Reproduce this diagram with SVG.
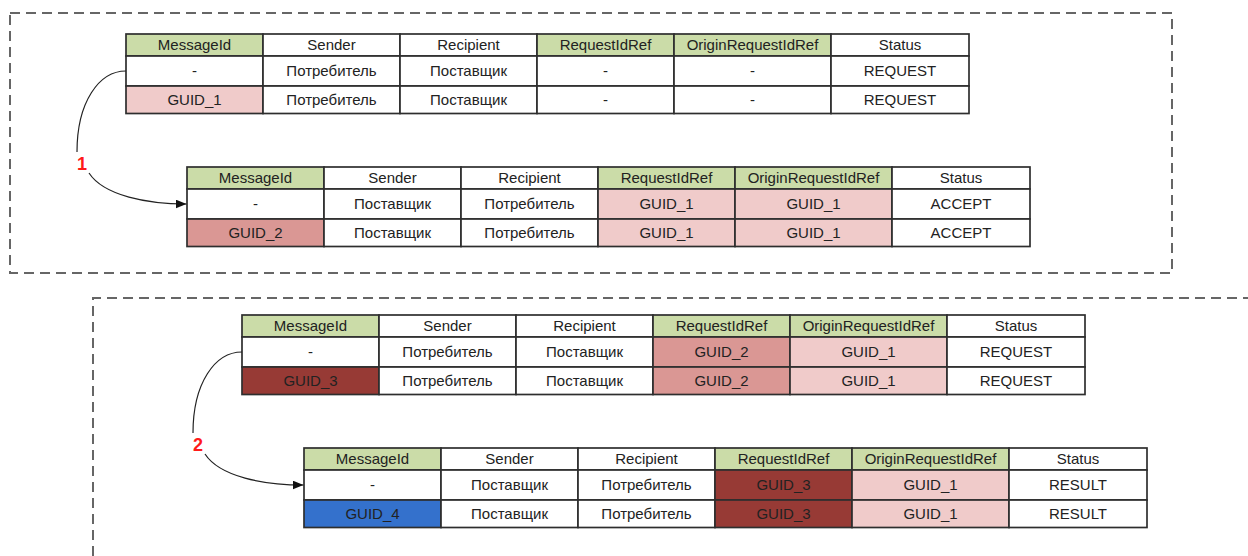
<svg xmlns="http://www.w3.org/2000/svg" width="1248" height="556" viewBox="0 0 1248 556">
<style>
  rect.c{stroke:#2e2e2e;stroke-width:1.7}
  .g{fill:#cbdca8}
  .w{fill:#ffffff}
  .p1{fill:#f0cbca}
  .p2{fill:#da9794}
  .p3{fill:#973a35}
  .b{fill:#3471cc}
  text.t{font-family:"Liberation Sans",Arial,sans-serif;font-size:15px;fill:#222;text-anchor:middle}
  .dash{fill:none;stroke:#666;stroke-width:2;stroke-dasharray:10 6}
  .conn{fill:none;stroke:#222;stroke-width:1.2}
  .lbl{font-family:"Liberation Sans",Arial,sans-serif;font-size:18px;font-weight:bold;fill:#ff1a1a;text-anchor:middle}
</style>
<defs>
  <marker id="arr" markerWidth="11" markerHeight="9" refX="11" refY="4.5" orient="auto" markerUnits="userSpaceOnUse">
    <path d="M0,0 L11,4.5 L0,9 Z" fill="#111"/>
  </marker>
</defs>
<rect width="1248" height="556" fill="#ffffff"/>
<g id="frames">
  <rect class="dash" x="10" y="13" width="1162" height="260"/>
  <path class="dash" d="M93,556 V298 H1248"/>
</g>

<g id="table1" transform="translate(126,34)">
  <rect class="c g" x="0" y="0" width="137" height="22"/><text class="t" x="68.5" y="16.3">MessageId</text>
  <rect class="c w" x="137" y="0" width="137" height="22"/><text class="t" x="205.5" y="16.3">Sender</text>
  <rect class="c w" x="274" y="0" width="137" height="22"/><text class="t" x="342.5" y="16.3">Recipient</text>
  <rect class="c g" x="411" y="0" width="137" height="22"/><text class="t" x="479.5" y="16.3">RequestIdRef</text>
  <rect class="c g" x="548" y="0" width="157" height="22"/><text class="t" x="626.5" y="16.3">OriginRequestIdRef</text>
  <rect class="c w" x="705" y="0" width="138" height="22"/><text class="t" x="774" y="16.3">Status</text>
  <rect class="c w" x="0" y="22" width="137" height="30"/><text class="t" x="68.5" y="42.3">-</text>
  <rect class="c w" x="137" y="22" width="137" height="30"/><text class="t" x="205.5" y="42.3">Потребитель</text>
  <rect class="c w" x="274" y="22" width="137" height="30"/><text class="t" x="342.5" y="42.3">Поставщик</text>
  <rect class="c w" x="411" y="22" width="137" height="30"/><text class="t" x="479.5" y="42.3">-</text>
  <rect class="c w" x="548" y="22" width="157" height="30"/><text class="t" x="626.5" y="42.3">-</text>
  <rect class="c w" x="705" y="22" width="138" height="30"/><text class="t" x="774" y="42.3">REQUEST</text>
  <rect class="c p1" x="0" y="52" width="137" height="27.5"/><text class="t" x="68.5" y="71">GUID_1</text>
  <rect class="c w" x="137" y="52" width="137" height="27.5"/><text class="t" x="205.5" y="71">Потребитель</text>
  <rect class="c w" x="274" y="52" width="137" height="27.5"/><text class="t" x="342.5" y="71">Поставщик</text>
  <rect class="c w" x="411" y="52" width="137" height="27.5"/><text class="t" x="479.5" y="71">-</text>
  <rect class="c w" x="548" y="52" width="157" height="27.5"/><text class="t" x="626.5" y="71">-</text>
  <rect class="c w" x="705" y="52" width="138" height="27.5"/><text class="t" x="774" y="71">REQUEST</text>
</g>

<g id="table2" transform="translate(187,167)">
  <rect class="c g" x="0" y="0" width="137" height="22"/><text class="t" x="68.5" y="16.3">MessageId</text>
  <rect class="c w" x="137" y="0" width="137" height="22"/><text class="t" x="205.5" y="16.3">Sender</text>
  <rect class="c w" x="274" y="0" width="137" height="22"/><text class="t" x="342.5" y="16.3">Recipient</text>
  <rect class="c g" x="411" y="0" width="137" height="22"/><text class="t" x="479.5" y="16.3">RequestIdRef</text>
  <rect class="c g" x="548" y="0" width="157" height="22"/><text class="t" x="626.5" y="16.3">OriginRequestIdRef</text>
  <rect class="c w" x="705" y="0" width="138" height="22"/><text class="t" x="774" y="16.3">Status</text>
  <rect class="c w" x="0" y="22" width="137" height="30"/><text class="t" x="68.5" y="42.3">-</text>
  <rect class="c w" x="137" y="22" width="137" height="30"/><text class="t" x="205.5" y="42.3">Поставщик</text>
  <rect class="c w" x="274" y="22" width="137" height="30"/><text class="t" x="342.5" y="42.3">Потребитель</text>
  <rect class="c p1" x="411" y="22" width="137" height="30"/><text class="t" x="479.5" y="42.3">GUID_1</text>
  <rect class="c p1" x="548" y="22" width="157" height="30"/><text class="t" x="626.5" y="42.3">GUID_1</text>
  <rect class="c w" x="705" y="22" width="138" height="30"/><text class="t" x="774" y="42.3">ACCEPT</text>
  <rect class="c p2" x="0" y="52" width="137" height="27.5"/><text class="t" x="68.5" y="71">GUID_2</text>
  <rect class="c w" x="137" y="52" width="137" height="27.5"/><text class="t" x="205.5" y="71">Поставщик</text>
  <rect class="c w" x="274" y="52" width="137" height="27.5"/><text class="t" x="342.5" y="71">Потребитель</text>
  <rect class="c p1" x="411" y="52" width="137" height="27.5"/><text class="t" x="479.5" y="71">GUID_1</text>
  <rect class="c p1" x="548" y="52" width="157" height="27.5"/><text class="t" x="626.5" y="71">GUID_1</text>
  <rect class="c w" x="705" y="52" width="138" height="27.5"/><text class="t" x="774" y="71">ACCEPT</text>
</g>

<g id="table3" transform="translate(242,315)">
  <rect class="c g" x="0" y="0" width="137" height="22"/><text class="t" x="68.5" y="16.3">MessageId</text>
  <rect class="c w" x="137" y="0" width="137" height="22"/><text class="t" x="205.5" y="16.3">Sender</text>
  <rect class="c w" x="274" y="0" width="137" height="22"/><text class="t" x="342.5" y="16.3">Recipient</text>
  <rect class="c g" x="411" y="0" width="137" height="22"/><text class="t" x="479.5" y="16.3">RequestIdRef</text>
  <rect class="c g" x="548" y="0" width="157" height="22"/><text class="t" x="626.5" y="16.3">OriginRequestIdRef</text>
  <rect class="c w" x="705" y="0" width="138" height="22"/><text class="t" x="774" y="16.3">Status</text>
  <rect class="c w" x="0" y="22" width="137" height="30"/><text class="t" x="68.5" y="42.3">-</text>
  <rect class="c w" x="137" y="22" width="137" height="30"/><text class="t" x="205.5" y="42.3">Потребитель</text>
  <rect class="c w" x="274" y="22" width="137" height="30"/><text class="t" x="342.5" y="42.3">Поставщик</text>
  <rect class="c p2" x="411" y="22" width="137" height="30"/><text class="t" x="479.5" y="42.3">GUID_2</text>
  <rect class="c p1" x="548" y="22" width="157" height="30"/><text class="t" x="626.5" y="42.3">GUID_1</text>
  <rect class="c w" x="705" y="22" width="138" height="30"/><text class="t" x="774" y="42.3">REQUEST</text>
  <rect class="c p3" x="0" y="52" width="137" height="27.5"/><text class="t" x="68.5" y="71">GUID_3</text>
  <rect class="c w" x="137" y="52" width="137" height="27.5"/><text class="t" x="205.5" y="71">Потребитель</text>
  <rect class="c w" x="274" y="52" width="137" height="27.5"/><text class="t" x="342.5" y="71">Поставщик</text>
  <rect class="c p2" x="411" y="52" width="137" height="27.5"/><text class="t" x="479.5" y="71">GUID_2</text>
  <rect class="c p1" x="548" y="52" width="157" height="27.5"/><text class="t" x="626.5" y="71">GUID_1</text>
  <rect class="c w" x="705" y="52" width="138" height="27.5"/><text class="t" x="774" y="71">REQUEST</text>
</g>

<g id="table4" transform="translate(304,448)">
  <rect class="c g" x="0" y="0" width="137" height="22"/><text class="t" x="68.5" y="16.3">MessageId</text>
  <rect class="c w" x="137" y="0" width="137" height="22"/><text class="t" x="205.5" y="16.3">Sender</text>
  <rect class="c w" x="274" y="0" width="137" height="22"/><text class="t" x="342.5" y="16.3">Recipient</text>
  <rect class="c g" x="411" y="0" width="137" height="22"/><text class="t" x="479.5" y="16.3">RequestIdRef</text>
  <rect class="c g" x="548" y="0" width="157" height="22"/><text class="t" x="626.5" y="16.3">OriginRequestIdRef</text>
  <rect class="c w" x="705" y="0" width="138" height="22"/><text class="t" x="774" y="16.3">Status</text>
  <rect class="c w" x="0" y="22" width="137" height="30"/><text class="t" x="68.5" y="42.3">-</text>
  <rect class="c w" x="137" y="22" width="137" height="30"/><text class="t" x="205.5" y="42.3">Поставщик</text>
  <rect class="c w" x="274" y="22" width="137" height="30"/><text class="t" x="342.5" y="42.3">Потребитель</text>
  <rect class="c p3" x="411" y="22" width="137" height="30"/><text class="t" x="479.5" y="42.3">GUID_3</text>
  <rect class="c p1" x="548" y="22" width="157" height="30"/><text class="t" x="626.5" y="42.3">GUID_1</text>
  <rect class="c w" x="705" y="22" width="138" height="30"/><text class="t" x="774" y="42.3">RESULT</text>
  <rect class="c b" x="0" y="52" width="137" height="27.5"/><text class="t" x="68.5" y="71">GUID_4</text>
  <rect class="c w" x="137" y="52" width="137" height="27.5"/><text class="t" x="205.5" y="71">Поставщик</text>
  <rect class="c w" x="274" y="52" width="137" height="27.5"/><text class="t" x="342.5" y="71">Потребитель</text>
  <rect class="c p3" x="411" y="52" width="137" height="27.5"/><text class="t" x="479.5" y="71">GUID_3</text>
  <rect class="c p1" x="548" y="52" width="157" height="27.5"/><text class="t" x="626.5" y="71">GUID_1</text>
  <rect class="c w" x="705" y="52" width="138" height="27.5"/><text class="t" x="774" y="71">RESULT</text>
</g>

<g id="connectors">
  <path class="conn" d="M126,71 C99,71 77,102 77,152"/>
  <path class="conn" d="M89,173 C104,196 148,204 186.5,204" marker-end="url(#arr)"/>
  <text class="lbl" x="82" y="170">1</text>
  <path class="conn" d="M242,352 C215,352 193,383 193,433"/>
  <path class="conn" d="M205,454 C220,477 264,485 303.5,485" marker-end="url(#arr)"/>
  <text class="lbl" x="198" y="451">2</text>
</g>
</svg>
